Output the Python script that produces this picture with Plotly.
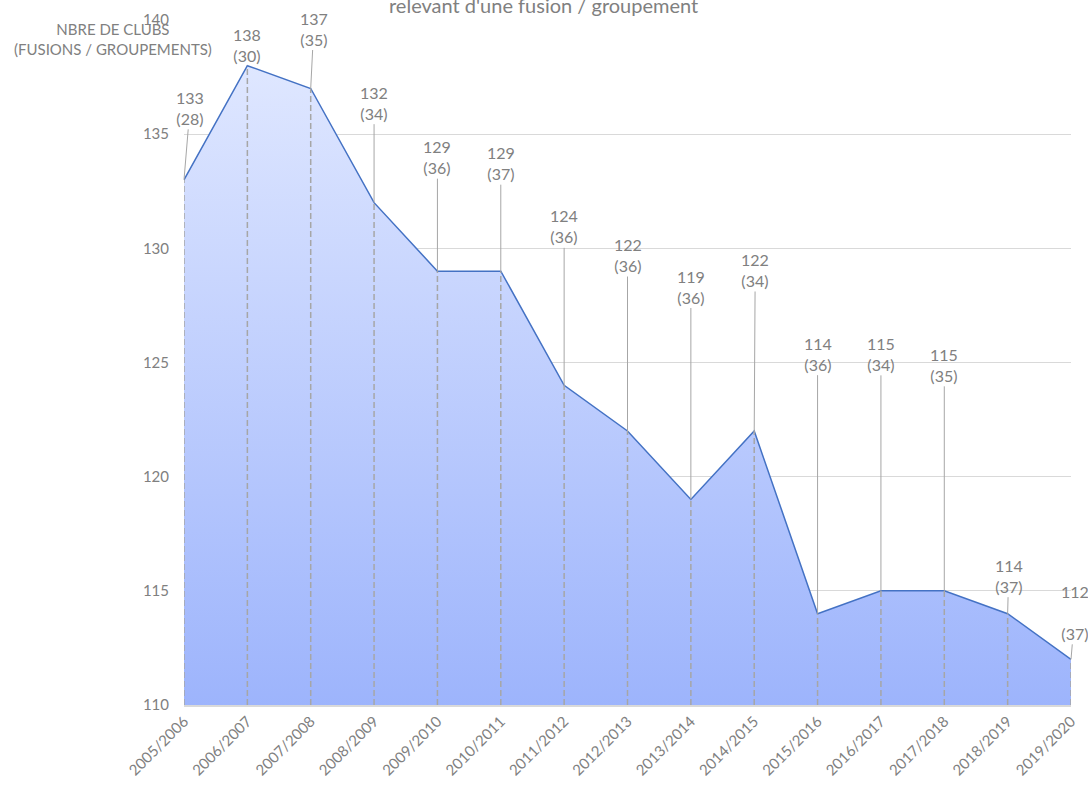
import plotly.graph_objects as go

seasons = ["2005/2006", "2006/2007", "2007/2008", "2008/2009", "2009/2010",
           "2010/2011", "2011/2012", "2012/2013", "2013/2014", "2014/2015",
           "2015/2016", "2016/2017", "2017/2018", "2018/2019", "2019/2020"]
clubs = [133, 138, 137, 132, 129, 129, 124, 122, 119, 122, 114, 115, 115, 114, 112]
fusions = [28, 30, 35, 34, 36, 37, 36, 36, 36, 34, 36, 34, 35, 37, 37]
y_ticks = [110, 115, 120, 125, 130, 135, 140]

# label offsets (pixels) from each point to its data label
label_dx = [6, 0, 3, 0, 0, 0, 0, 0, 0, 1, 0, 0, 0, 1, 4]
label_dy = [-72, -21, -60, -100, -114, -108, -159, -176, -213, -161, -260, -237, -226, -38, -47]

FONT = "Lato, 'Open Sans', sans-serif"
GREY = "#808080"
base = y_ticks[0]

fig = go.Figure()

# area with vertical gradient
fig.add_trace(go.Scatter(
    x=seasons, y=clubs, mode="lines",
    line=dict(color="#4472c4", width=1.5),
    fill="tozeroy",
    fillgradient=dict(type="vertical", start=base, stop=max(clubs),
                      colorscale=[[0, "#9db4fc"], [1, "#dfe7ff"]]),
    hoverinfo="skip", showlegend=False,
))

# drop lines
dx, dy = [], []
for s, v in zip(seasons, clubs):
    dx += [s, s, None]
    dy += [base, v, None]
fig.add_trace(go.Scatter(
    x=dx, y=dy, mode="lines",
    line=dict(color="#a6a6a6", width=1.5, dash="6px,3px"),
    hoverinfo="skip", showlegend=False,
))

# data labels with leader lines
for s, v, g, ax, ay in zip(seasons, clubs, fusions, label_dx, label_dy):
    txt = f"{v}<br>({g})" if s != seasons[-1] else f"{v}<br><br>({g})"
    fig.add_annotation(
        x=s, y=v, text=txt, showarrow=True, arrowhead=0, arrowwidth=1,
        arrowcolor="#a6a6a6", ax=ax, ay=ay, standoff=0,
        font=dict(family=FONT, size=16, color=GREY),
    )

# axis title (horizontal, top-left)
fig.add_annotation(
    xref="paper", yref="paper", x=-0.080, y=1.0 - 19 / 685,
    xanchor="center", yanchor="middle", showarrow=False,
    text="NBRE DE CLUBS<br>(FUSIONS / GROUPEMENTS)",
    font=dict(family=FONT, size=15, color=GREY),
)

# title (partially cut at the top, as in the reference)
fig.add_annotation(
    xref="paper", yref="paper", x=(543 - 184) / 887, y=1.0 + 1 / 685,
    xanchor="center", yanchor="bottom", showarrow=False,
    text="relevant d'une fusion / groupement",
    font=dict(family=FONT, size=20, color=GREY),
)

fig.update_layout(
    width=1088, height=787,
    margin=dict(l=184, r=17, t=20, b=82, autoexpand=False),
    paper_bgcolor="white", plot_bgcolor="white",
    font=dict(family=FONT, color=GREY),
    xaxis=dict(
        type="category", range=[0, len(seasons) - 1],
        tickangle=-45, tickfont=dict(size=15, color=GREY),
        showgrid=False, showline=True, linecolor="#d9d9d9", linewidth=1.5,
        ticks="", zeroline=False, automargin=False,
    ),
    yaxis=dict(
        range=[y_ticks[0], y_ticks[-1]], tickvals=y_ticks,
        tickfont=dict(size=15, color=GREY),
        showgrid=True, gridcolor="#d9d9d9", gridwidth=1,
        zeroline=False, showline=False, ticks="",
        ticklabelstandoff=14, automargin=False,
    ),
)

fig.write_html("out.html",
               config={"displayModeBar": False},
               post_script="document.body.style.margin='0';document.body.style.overflow='hidden';")
